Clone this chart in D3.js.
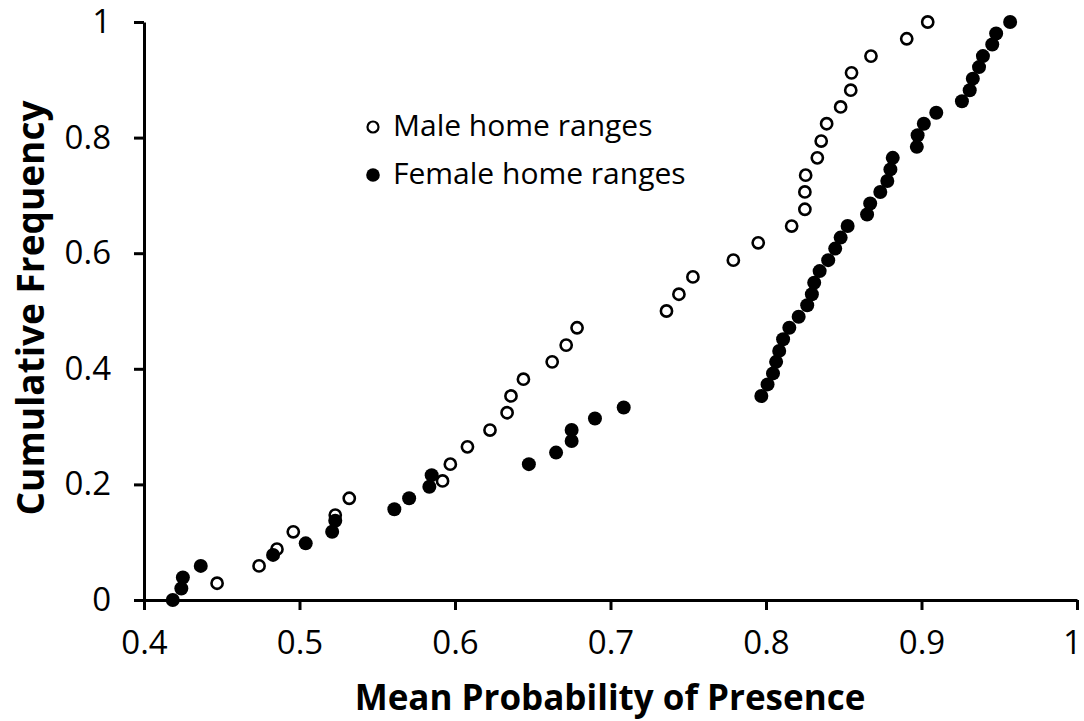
<!DOCTYPE html>
<html>
<head>
<meta charset="utf-8">
<script src="https://cdn.jsdelivr.net/npm/d3@7"></script>
<style>
  body { margin: 0; background: #fff; }
  svg { display: block; }
  text { font-family: "Open Sans", sans-serif; fill: #000; }
</style>
</head>
<body>
<svg id="chart" width="1084" height="721"></svg>
<script>
// mean probability of presence, sorted, with cumulative frequency
const maleX = [0.447, 0.474, 0.4855, 0.496, 0.523, 0.532, 0.592, 0.597, 0.608, 0.6225,
  0.6335, 0.636, 0.644, 0.6625, 0.6715, 0.6785, 0.736, 0.744, 0.753, 0.779,
  0.795, 0.8165, 0.825, 0.825, 0.8255, 0.833, 0.8355, 0.839, 0.848, 0.8545,
  0.855, 0.8675, 0.8905, 0.904];
const maleY = [0.029, 0.059, 0.088, 0.118, 0.147, 0.176, 0.206, 0.235, 0.265, 0.294,
  0.324, 0.353, 0.382, 0.412, 0.441, 0.471, 0.5, 0.529, 0.559, 0.588,
  0.618, 0.647, 0.676, 0.706, 0.735, 0.765, 0.794, 0.824, 0.853, 0.882,
  0.912, 0.941, 0.971, 1];

const femaleX = [0.4185, 0.424, 0.425, 0.4365, 0.483, 0.504, 0.521, 0.523, 0.561, 0.5705,
  0.5835, 0.585, 0.6475, 0.665, 0.675, 0.675, 0.69, 0.7085, 0.797, 0.801,
  0.8045, 0.8065, 0.8085, 0.811, 0.815, 0.821, 0.8265, 0.8295, 0.831, 0.8345,
  0.84, 0.8445, 0.848, 0.8525, 0.865, 0.867, 0.8735, 0.878, 0.88, 0.8815,
  0.897, 0.8975, 0.9015, 0.9095, 0.926, 0.931, 0.933, 0.937, 0.9395, 0.9455,
  0.948, 0.957];
const femaleY = [0, 0.02, 0.039, 0.059, 0.078, 0.098, 0.118, 0.137, 0.157, 0.176,
  0.196, 0.216, 0.235, 0.255, 0.275, 0.294, 0.314, 0.333, 0.353, 0.373,
  0.392, 0.412, 0.431, 0.451, 0.471, 0.49, 0.51, 0.529, 0.549, 0.569,
  0.588, 0.608, 0.627, 0.647, 0.667, 0.686, 0.706, 0.725, 0.745, 0.765,
  0.784, 0.804, 0.824, 0.843, 0.863, 0.882, 0.902, 0.922, 0.941, 0.961,
  0.98, 1];

const xTicks = [0.4, 0.5, 0.6, 0.7, 0.8, 0.9, 1];
const yTicks = [0, 0.2, 0.4, 0.6, 0.8, 1];
const legendLabels = ["Male home ranges", "Female home ranges"];

const svg = d3.select("#chart");
const x = d3.scaleLinear().domain([0.4, 1]).range([144, 1077]);
const y = d3.scaleLinear().domain([0, 1]).range([600, 22]);
const fmt = d => String(+d.toFixed(1));

// axes
const gx = svg.append("g")
  .attr("transform", "translate(0,600)")
  .call(d3.axisBottom(x).tickValues(xTicks).tickFormat(fmt)
    .tickSize(10).tickSizeOuter(0).tickPadding(21));
const gy = svg.append("g")
  .attr("transform", "translate(144,0)")
  .call(d3.axisLeft(y).tickValues(yTicks).tickFormat(fmt)
    .tickSize(10).tickSizeOuter(0).tickPadding(23));
[gx, gy].forEach(g => {
  g.select(".domain").attr("stroke", "#000").attr("stroke-width", 3);
  g.selectAll(".tick line").attr("stroke", "#000").attr("stroke-width", 3);
  g.selectAll(".tick text")
    .style("font-family", "'Open Sans', sans-serif")
    .style("font-size", "33px")
    .attr("fill", "#000");
});
// last x label sits on the right edge
gx.selectAll(".tick text").filter(d => d === 1).attr("dx", -5);

// points
const male = maleX.map((v, i) => ({ x: v, y: maleY[i] }));
const female = femaleX.map((v, i) => ({ x: v, y: femaleY[i] }));

svg.append("g").selectAll("circle")
  .data(male).join("circle")
  .attr("cx", d => x(d.x))
  .attr("cy", d => y(d.y))
  .attr("r", 5.6)
  .attr("fill", "#fff")
  .attr("stroke", "#000")
  .attr("stroke-width", 2.6);

svg.append("g").selectAll("circle")
  .data(female).join("circle")
  .attr("cx", d => x(d.x))
  .attr("cy", d => y(d.y))
  .attr("r", 7)
  .attr("fill", "#000");

// legend
const lg = svg.append("g");
lg.append("circle").attr("cx", 373).attr("cy", 127).attr("r", 5.5)
  .attr("fill", "#fff").attr("stroke", "#000").attr("stroke-width", 2.2);
lg.append("circle").attr("cx", 373).attr("cy", 175).attr("r", 6.8)
  .attr("fill", "#000");
lg.selectAll("text")
  .data(legendLabels).join("text")
  .attr("x", 393)
  .attr("y", (d, i) => 136 + i * 48)
  .style("font-size", "30px")
  .text(d => d);

// axis titles
svg.append("text")
  .attr("x", 610)
  .attr("y", 710)
  .attr("text-anchor", "middle")
  .style("font-size", "35px")
  .style("font-weight", "bold")
  .text("Mean Probability of Presence");

svg.append("text")
  .attr("transform", "translate(44,308) rotate(-90)")
  .attr("text-anchor", "middle")
  .style("font-size", "37px")
  .style("font-weight", "bold")
  .text("Cumulative Frequency");
</script>
</body>
</html>
